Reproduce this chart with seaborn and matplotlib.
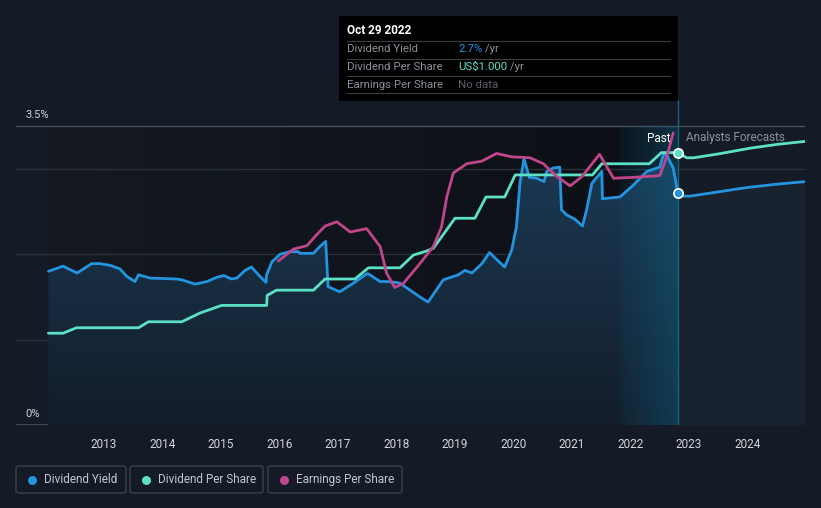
import numpy as np
import matplotlib
matplotlib.use("Agg")
import matplotlib.pyplot as plt
from matplotlib.patches import Rectangle, FancyBboxPatch
from matplotlib.colors import to_rgb
import seaborn as sns

# ---- data ----
yield_years = [2012.05, 2012.30, 2012.54, 2012.79, 2012.93, 2013.10, 2013.27, 2013.39, 2013.53,
               2013.59, 2013.79, 2014.24, 2014.33, 2014.56, 2014.76, 2014.93, 2015.05, 2015.18,
               2015.27, 2015.41, 2015.52, 2015.64, 2015.77, 2015.78, 2015.87, 2016.01, 2016.18,
               2016.32, 2016.35, 2016.58, 2016.69, 2016.79, 2016.83, 2017.03, 2017.26, 2017.49,
               2017.52, 2017.72, 2017.83, 2018.00, 2018.06, 2018.40, 2018.54, 2018.80, 2019.06,
               2019.17, 2019.29, 2019.46, 2019.59, 2019.71, 2019.85, 2019.97, 2020.05, 2020.11,
               2020.18, 2020.27, 2020.40, 2020.52, 2020.57, 2020.68, 2020.79, 2020.82, 2020.91,
               2021.05, 2021.18, 2021.25, 2021.34, 2021.51, 2021.52, 2021.82, 2022.05, 2022.28,
               2022.50, 2022.56, 2022.62, 2022.73, 2022.81]
yield_pct = [1.80, 1.86, 1.78, 1.89, 1.89, 1.87, 1.83, 1.74, 1.68,
             1.76, 1.72, 1.71, 1.70, 1.65, 1.68, 1.73, 1.75, 1.71,
             1.72, 1.81, 1.85, 1.76, 1.67, 1.76, 1.91, 2.00, 2.03,
             2.03, 2.01, 2.01, 2.09, 2.15, 1.62, 1.56, 1.66, 1.77,
             1.77, 1.68, 1.68, 1.67, 1.66, 1.50, 1.44, 1.70, 1.76,
             1.81, 1.78, 1.89, 2.02, 1.94, 1.85, 2.05, 2.32, 2.83,
             3.12, 2.90, 2.89, 2.85, 2.97, 3.01, 3.02, 2.52, 2.46,
             2.41, 2.33, 2.52, 2.83, 2.97, 2.65, 2.67, 2.81, 2.97,
             3.02, 3.16, 3.16, 3.01, 2.72]
yield_fc_years = [2022.81, 2022.90, 2023.02, 2023.50, 2023.98, 2024.50, 2024.98]
yield_fc_pct = [2.72, 2.68, 2.68, 2.73, 2.78, 2.82, 2.85]

dps_years = [2012.05, 2012.30, 2012.53, 2013.59, 2013.76, 2014.33, 2014.64, 2015.01, 2015.78,
             2015.79, 2015.95, 2016.58, 2016.78, 2017.29, 2017.52, 2018.06, 2018.29, 2018.52,
             2018.63, 2019.00, 2019.34, 2019.53, 2019.85, 2020.03, 2021.35, 2021.51, 2022.32,
             2022.53, 2022.81]
dps_usd = [0.337, 0.337, 0.357, 0.357, 0.379, 0.379, 0.411, 0.439, 0.439,
           0.476, 0.495, 0.495, 0.536, 0.536, 0.577, 0.577, 0.624, 0.639,
           0.649, 0.759, 0.759, 0.837, 0.837, 0.918, 0.918, 0.959, 0.959,
           1.000, 1.000]
dps_fc_years = [2022.81, 2022.96, 2023.08, 2023.50, 2024.04, 2024.50, 2024.98]
dps_fc_usd = [1.000, 0.981, 0.981, 0.995, 1.016, 1.030, 1.041]
dps_scale = 3.19  # US$1.000 sits at this height on the yield axis

eps_years = [2015.98, 2016.24, 2016.47, 2016.61, 2016.78, 2016.98, 2017.21, 2017.49, 2017.72,
             2017.83, 2017.97, 2018.12, 2018.29, 2018.40, 2018.63, 2018.77, 2018.86, 2018.97,
             2019.20, 2019.46, 2019.71, 2019.97, 2020.28, 2020.51, 2020.74, 2020.97, 2021.17,
             2021.47, 2021.71, 2022.05, 2022.50, 2022.62, 2022.73]
eps_rel = [1.92, 2.06, 2.10, 2.21, 2.33, 2.38, 2.26, 2.30, 2.09,
           1.78, 1.61, 1.66, 1.80, 1.89, 2.09, 2.32, 2.67, 2.95,
           3.06, 3.09, 3.18, 3.14, 3.13, 3.06, 2.91, 2.80, 2.91,
           3.17, 2.89, 2.90, 2.92, 3.14, 3.42]

year_ticks = list(range(2013, 2025))
now = 2022.81
band_start = 2021.81

BG = "#151b26"
BLUE = "#2394df"
TEAL = "#5ce0c6"
PINK = "#c0458a"

W, H = 821, 508
sns.set_theme(style="dark")
plt.rcParams["font.family"] = ["Roboto", "DejaVu Sans"]

fig = plt.figure(figsize=(W / 100, H / 100), dpi=100, facecolor=BG)
ax = fig.add_axes([16 / W, (H - 425) / H, (805 - 16) / W, (425 - 100) / H])
ax.set_facecolor(BG)
x0, x1 = 2011.496, 2024.983
y0, y1 = 0, 3.806
ax.set_xlim(x0, x1)
ax.set_ylim(y0, y1)

# darker "past" background, getting darker to the right
grad = np.linspace(0, 1, 256)[None, :]
c_a, c_b = np.array(to_rgb("#141922")), np.array(to_rgb("#0c0f15"))
img = c_a + (c_b - c_a) * grad[..., None]
ax.imshow(img, extent=[yield_years[0], now, y0, 3.5], aspect="auto", zorder=0)

# gridlines
for g in [1, 2, 3]:
    ax.axhline(g, color="#2a303a", lw=1, zorder=1)
ax.axhline(3.5, color="#4a4f58", lw=1, zorder=1)
ax.axhline(0, color="#4a4f58", lw=1.2, zorder=1)

# fill under yield (past) with vertical gradient
poly = ax.fill_between(yield_years, yield_pct, 0, color="none", zorder=2)
vg = np.linspace(1, 0, 256)[:, None]
top, bot = np.array(to_rgb("#1b3a55")), np.array(to_rgb("#131d2a"))
vimg = bot + (top - bot) * vg[..., None] * np.ones((1, 2, 1))
im = ax.imshow(vimg, extent=[x0, x1, 0, 3.2], aspect="auto", zorder=2)
im.set_clip_path(poly.get_paths()[0], transform=ax.transData)
ax.fill_between(yield_fc_years, yield_fc_pct, 0, color="#19222f", lw=0, zorder=2)

# 2022 highlight band
band = np.zeros((1, 256, 4))
band[..., :3] = to_rgb("#0e6d93")
band[..., 3] = np.linspace(0.07, 0.38, 256)
ax.imshow(band, extent=[band_start, now, y0, 3.5], aspect="auto", zorder=3)
ax.plot([now, now], [y0, y1], color="#1a6479", lw=1, zorder=3)

# lines
dps_plot = [v * dps_scale for v in dps_usd]
dps_fc_plot = [v * dps_scale for v in dps_fc_usd]
kw = dict(estimator=None, sort=False, lw=2.0, ax=ax, zorder=4)
sns.lineplot(x=yield_years, y=yield_pct, color=BLUE, **kw)
sns.lineplot(x=yield_fc_years, y=yield_fc_pct, color=BLUE, **kw)
sns.lineplot(x=dps_years, y=dps_plot, color=TEAL, **kw)
sns.lineplot(x=dps_fc_years, y=dps_fc_plot, color=TEAL, **kw)
sns.lineplot(x=eps_years, y=eps_rel, color=PINK, **kw)

ax.scatter([now], [yield_pct[-1]], s=45, color=BLUE, edgecolor="white", lw=1.2, zorder=6)
ax.scatter([now], [dps_plot[-1]], s=45, color=TEAL, edgecolor="white", lw=1.2, zorder=6)

# axes styling
for s in ax.spines.values():
    s.set_visible(False)
ax.set_yticks([])
ax.set_xticks(year_ticks)
ax.set_xticklabels([str(y) for y in year_ticks])
ax.tick_params(axis="x", colors="#4a4f58", length=4, width=1, pad=5,
               labelcolor="#d3d6db", labelsize=8.5)
ax.grid(False)

def px(x, y):
    return x / W, 1 - y / H

fig.text(*px(25, 115), "3.5%", color="#d3d6db", fontsize=8, va="center")
fig.text(*px(25, 414), "0%", color="#d3d6db", fontsize=8, va="center")
fig.text(*px(670, 138), "Past", color="white", fontsize=8.5, ha="right", va="center")
fig.text(*px(686, 138), "Analysts Forecasts", color="#8d939c", fontsize=8.5, va="center")

# tooltip
fig.patches.append(Rectangle(px(339, 101), 339 / W, 85 / H, transform=fig.transFigure,
                             facecolor="black", edgecolor="none", zorder=10))
fig.text(*px(347, 31), "Oct 29 2022", color="white", fontsize=8.5, fontweight="bold",
         va="center", zorder=11)
for yy in [41, 59, 76, 93]:
    fig.lines.append(plt.Line2D([347 / W, 670 / W], [1 - yy / H] * 2, transform=fig.transFigure,
                                color="#3a3d42", lw=0.8, zorder=11))
rows = [("Dividend Yield", "2.7%", BLUE, " /yr"),
        ("Dividend Per Share", "US$1.000", TEAL, " /yr"),
        ("Earnings Per Share", "No data", "#5b6068", "")]
for i, (lab, val, col, unit) in enumerate(rows):
    yy = 49.5 + i * 17.5
    fig.text(*px(347, yy), lab, color="#8a8f98", fontsize=8.2, va="center", zorder=11)
    t = fig.text(*px(458, yy), val, color=col, fontsize=8.2, va="center", zorder=11)
    if unit:
        fig.canvas.draw()
        bb = t.get_window_extent()
        fig.text(bb.x1 / W, 1 - yy / H, unit, color="#8a8f98", fontsize=8.2, va="center", zorder=11)

# legend boxes
legend = [("Dividend Yield", BLUE, 16, 126), ("Dividend Per Share", TEAL, 130, 263),
          ("Earnings Per Share", PINK, 268, 402)]
for lab, col, xa, xb in legend:
    fig.patches.append(FancyBboxPatch(px(xa, 493), (xb - xa) / W, 27 / H,
                                      boxstyle="round,pad=0,rounding_size=0.004",
                                      transform=fig.transFigure, facecolor=BG,
                                      edgecolor="#3c424c", lw=1))
    fig.lines.append(plt.Line2D([(xa + 16) / W], [1 - 479.5 / H], transform=fig.transFigure,
                                marker="o", ms=6.5, color=col, mec="none", ls="none"))
    fig.text(*px(xa + 28, 479.5), lab, color="#c3c7cd", fontsize=8.5, va="center")

fig.savefig("out.png", dpi=100, facecolor=BG)
